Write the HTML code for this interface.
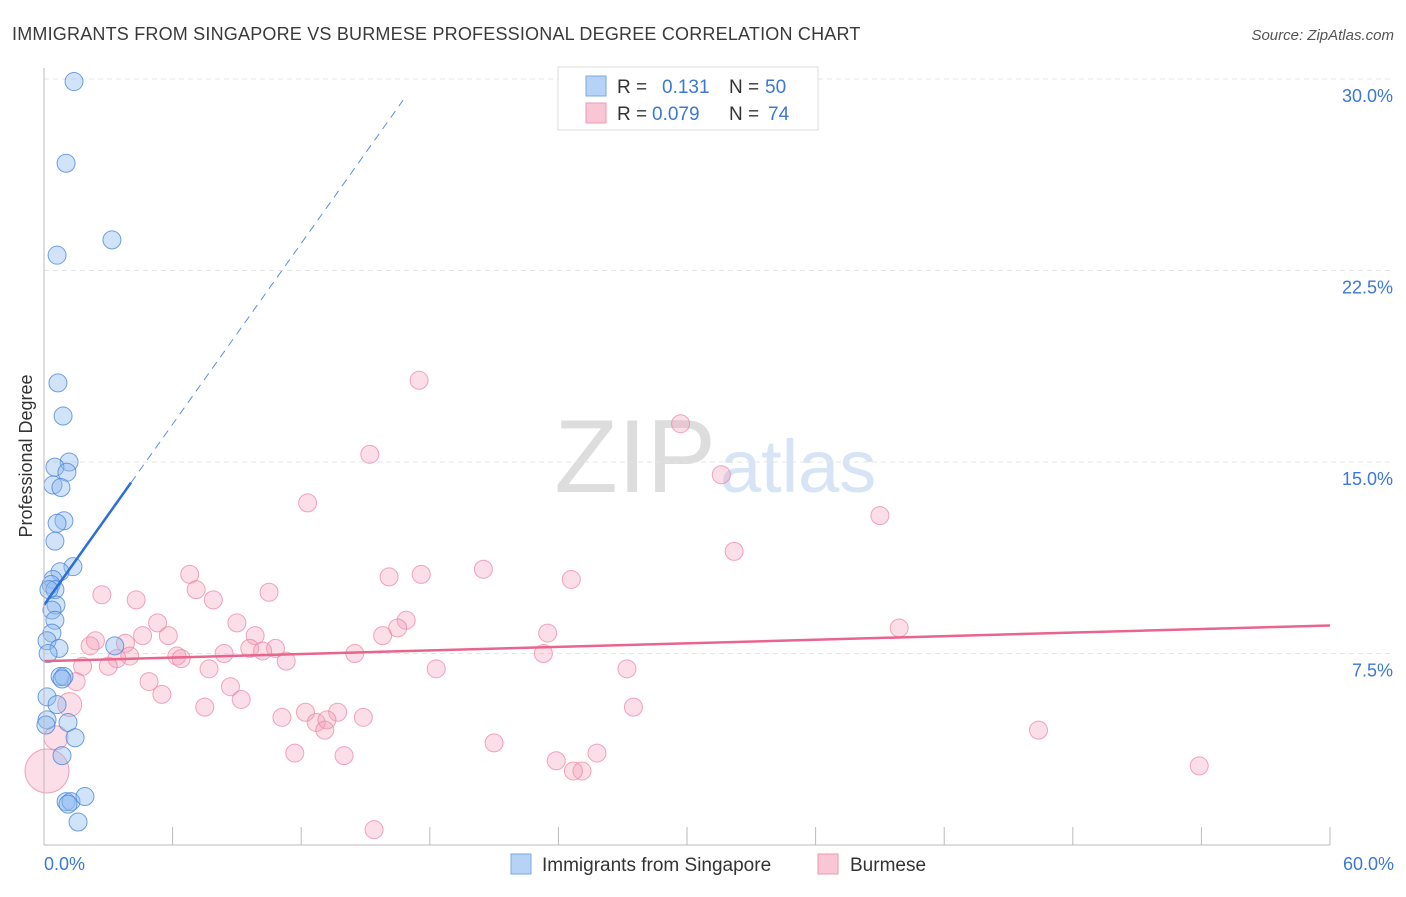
<!DOCTYPE html>
<html><head><meta charset="utf-8"><style>
body{margin:0;background:#fff;font-family:"Liberation Sans",sans-serif;}
svg text{font-family:"Liberation Sans",sans-serif;}
</style></head><body>
<svg id="chart" width="1406" height="892">
<text x="12" y="40" font-size="18" fill="#3a3a3a" letter-spacing="0.2">IMMIGRANTS FROM SINGAPORE VS BURMESE PROFESSIONAL DEGREE CORRELATION CHART</text>
<text x="1394" y="40" font-size="15" fill="#555" font-style="italic" text-anchor="end">Source: ZipAtlas.com</text>
<text x="716" y="492" font-size="104" fill="#ddd" text-anchor="end" font-family="Liberation Serif">ZIP</text>
<text x="720" y="492" font-size="74" fill="#d6e4f5">atlas</text>
<g id="grid"></g><g id="pts"></g><g id="trend"></g>
<line x1="44" y1="68" x2="44" y2="845" stroke="#bbb"/>
<line x1="44" y1="845" x2="1330" y2="845" stroke="#bbb"/>
<text x="32" y="456" font-size="18" fill="#333" text-anchor="middle" transform="rotate(-90 32 456)">Professional Degree</text>
<text x="44" y="870" font-size="18" fill="#3b78d8">0.0%</text>
<text x="1394" y="870" font-size="18" fill="#3b78d8" text-anchor="end">60.0%</text>
<g>
<rect x="558" y="67" width="260" height="63" fill="#fff" stroke="#ddd"/>
<rect x="586" y="76" width="20" height="20" fill="#b6d2f5" stroke="#7aa8e6"/>
<rect x="586" y="103" width="20" height="20" fill="#f8c6d4" stroke="#ee9ab3"/>
<text x="617" y="93" font-size="19" fill="#333">R =</text><text x="662" y="93" font-size="19" fill="#3b78d8">0.131</text>
<text x="729" y="93" font-size="19" fill="#333">N =</text><text x="765" y="93" font-size="19" fill="#3b78d8">50</text>
<text x="617" y="120" font-size="19" fill="#333">R =</text><text x="652" y="120" font-size="19" fill="#3b78d8">0.079</text>
<text x="729" y="120" font-size="19" fill="#333">N =</text><text x="768" y="120" font-size="19" fill="#3b78d8">74</text>
</g>
<g><rect x="511" y="854" width="20" height="20" fill="#b6d2f5" stroke="#7aa8e6"/><text x="542" y="871" font-size="19" fill="#333">Immigrants from Singapore</text></g>
<g><rect x="818" y="854" width="20" height="20" fill="#f8c6d4" stroke="#ee9ab3"/><text x="850" y="871" font-size="19" fill="#333">Burmese</text></g>
</svg>
<script>
const yTicks=[7.5,15,22.5,30];
const xTicks=[6,12,18,24,30,36,42,48,54,60];
const blueX=[1.4,1.03,3.17,0.61,0.65,0.89,1.17,0.51,1.07,0.42,0.79,0.93,0.61,0.51,1.35,0.75,0.42,0.33,0.51,0.23,0.56,0.37,0.51,0.37,0.14,0.70,0.19,3.3,0.75,0.93,0.84,0.14,0.61,0.14,1.12,1.45,0.84,1.03,1.26,1.12,1.91,1.59,0.09];
const blueY=[29.9,26.7,23.7,23.1,18.1,16.8,15.0,14.8,14.6,14.1,14.0,12.7,12.6,11.9,10.9,10.7,10.4,10.2,10.0,10.0,9.4,9.2,8.8,8.3,8.0,7.7,7.5,7.8,6.6,6.6,6.5,5.8,5.5,4.9,4.8,4.2,3.5,1.7,1.7,1.6,1.9,0.9,4.7];
const pinkX=[17.5,29.7,15.2,31.6,12.3,39.0,32.2,20.5,6.8,17.6,16.1,24.6,7.1,2.7,10.5,4.3,7.9,16.9,5.3,9.0,16.5,39.9,23.5,15.8,4.6,5.8,9.85,2.4,3.8,2.15,9.6,10.8,10.2,8.4,14.5,23.3,4.0,6.2,6.4,3.4,11.3,1.8,3.0,7.7,18.3,27.2,1.5,4.9,8.7,5.5,9.2,7.5,27.5,1.2,12.2,11.1,13.7,14.9,12.7,13.2,13.1,46.4,0.56,21.0,11.7,25.8,14.0,23.9,25.1,24.7,53.9,15.4,0.14];
const pinkY=[18.2,16.5,15.3,14.5,13.4,12.9,11.5,10.8,10.6,10.6,10.5,10.4,10.0,9.8,9.9,9.6,9.6,8.8,8.7,8.7,8.5,8.5,8.3,8.2,8.2,8.2,8.2,8.0,7.9,7.8,7.7,7.7,7.6,7.5,7.5,7.5,7.4,7.4,7.3,7.3,7.2,7.0,7.0,6.9,6.9,6.9,6.4,6.4,6.2,5.9,5.7,5.4,5.4,5.5,5.2,5.0,5.2,5.0,4.8,4.9,4.5,4.5,4.2,4.0,3.6,3.6,3.5,3.3,2.9,2.9,3.1,0.6,2.9];
const pinkR=[9,9,9,9,9,9,9,9,9,9,9,9,9,9,9,9,9,9,9,9,9,9,9,9,9,9,9,9,9,9,9,9,9,9,9,9,9,9,9,9,9,9,9,9,9,9,9,9,9,9,9,9,9,12,9,9,9,9,9,9,9,9,12,9,9,9,9,9,9,9,9,9,22];
const blueTrend=[9.4,1.18]; const pinkTrend=[7.2,0.0233];
const X=v=>44+v/60*1286, Y=v=>845-v/7.5*191.5;
const NS='http://www.w3.org/2000/svg';
function mk(p,t,a){const e=document.createElementNS(NS,t);for(const k in a)e.setAttribute(k,a[k]);p.appendChild(e);return e;}
const g=document.getElementById('grid');
yTicks.forEach(t=>{
 const l=mk(g,'line',{x1:44,x2:1394,y1:Y(t),y2:Y(t),stroke:'#e4e4e4','stroke-dasharray':'5,4'});
 
 
 const tx=mk(g,'text',{x:1393,y:Y(t)+23,'font-size':18,fill:'#3b78d8','text-anchor':'end'});tx.textContent=t.toFixed(1)+'%';
 
 
});
xTicks.forEach(t=>{
 const l=mk(g,'line',{x1:X(t),x2:X(t),y1:827,y2:845,stroke:'#bbb'});
 
 
});
const p=document.getElementById('pts');
pinkX.forEach((v,i)=>{const c=mk(p,'circle',{cx:X(v),cy:Y(pinkY[i]),r:pinkR[i],fill:'rgba(244,160,185,0.35)',stroke:'rgba(236,130,160,0.7)','stroke-width':1});
 
 });
blueX.forEach((v,i)=>{const c=mk(p,'circle',{cx:X(v),cy:Y(blueY[i]),r:9,fill:'rgba(140,185,240,0.4)',stroke:'rgba(70,130,215,0.75)','stroke-width':1});
 
 });
const tr=document.getElementById('trend');
let l=mk(tr,'line',{x1:X(0),y1:Y(blueTrend[0]),x2:X(4.06),y2:Y(blueTrend[0]+blueTrend[1]*4.06),stroke:'#2a6fd6','stroke-width':2.5});


l=mk(tr,'line',{x1:X(4.06),y1:Y(blueTrend[0]+blueTrend[1]*4.06),x2:X(16.75),y2:Y(blueTrend[0]+blueTrend[1]*16.75),stroke:'#5a90dd','stroke-width':1,'stroke-dasharray':'8,6'});


l=mk(tr,'line',{x1:X(0),y1:Y(pinkTrend[0]),x2:X(60),y2:Y(pinkTrend[0]+pinkTrend[1]*60),stroke:'#e8658e','stroke-width':2.5});


</script>
</body></html>
